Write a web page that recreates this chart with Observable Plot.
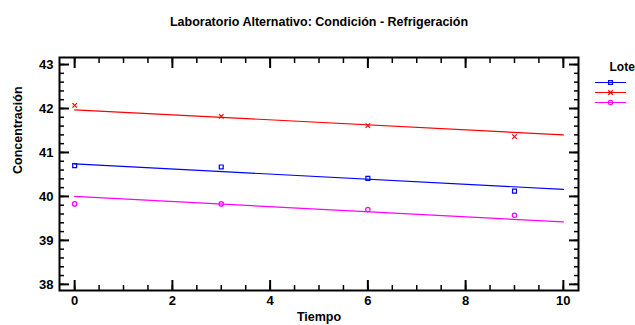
<!DOCTYPE html>
<html>
<head>
<meta charset="utf-8">
<script src="https://cdn.jsdelivr.net/npm/d3@7"></script>
<script src="https://cdn.jsdelivr.net/npm/@observablehq/plot@0.6"></script>
<style>
  html, body { margin: 0; padding: 0; background: #fff; overflow: hidden; }
  #wrap { position: relative; width: 635px; height: 325px; overflow: hidden; font-family: "Liberation Sans", Arial, sans-serif; }
  #legend { position: absolute; left: 590px; top: 50px; width: 45px; height: 70px; overflow: hidden; }
  #legend svg { max-width: none !important; }
</style>
</head>
<body>
<div id="wrap"><div id="chart"></div><div id="legend"></div></div>
<script>
// ---- data ----
const lots = ["1", "2", "3"];
const lotColors = ["#0000ff", "#ff0000", "#ff00ff"];
const lotSymbols = ["square", "times", "circle"];
const tiempo = [0, 3, 6, 9];
const conc1 = [40.70, 40.67, 40.41, 40.12];
const conc2 = [42.07, 41.82, 41.61, 41.36];
const conc3 = [39.83, 39.83, 39.70, 39.57];
const fitT = [0, 10];
const fit1 = [40.74, 40.16];
const fit2 = [41.97, 41.40];
const fit3 = [40.00, 39.42];
const xMajor = [0, 2, 4, 6, 8, 10];
const xMinor = d3.range(0, 10.01, 0.5);
const yMajor = [38, 39, 40, 41, 42, 43];
const yMinor = d3.range(38, 43.01, 0.2);
const title = "Laboratorio Alternativo: Condición - Refrigeración";
const xTitle = "Tiempo";
const yTitle = "Concentración";
const legendTitle = "Lote";

const concs = [conc1, conc2, conc3];
const fits = [fit1, fit2, fit3];
const points = lots.flatMap((lot, i) => tiempo.map((t, j) => ({lot, t, c: concs[i][j]})));
const lines = lots.flatMap((lot, i) => fitT.map((t, j) => ({lot, t, c: fits[i][j]})));

const font = "Liberation Sans, Arial, sans-serif";
const colorScale = {domain: lots, range: lotColors};
const symbolScale = {domain: lots, range: lotSymbols};

const chart = Plot.plot({
  width: 635,
  height: 325,
  marginLeft: 59,
  marginRight: 57,
  marginTop: 57,
  marginBottom: 35,
  style: {fontFamily: font, fontSize: "12px", color: "#000", background: "#fff"},
  x: {domain: [-0.31, 10.31]},
  y: {domain: [37.86, 43.16]},
  color: colorScale,
  symbol: symbolScale,
  marks: [
    // minor ticks (inward)
    Plot.axisY(yMinor, {anchor: "left", tickSize: -5, tickFormat: () => "", label: null, strokeWidth: 1.5}),
    Plot.axisY(yMinor, {anchor: "right", tickSize: -5, tickFormat: () => "", label: null, strokeWidth: 1.5}),
    Plot.axisX(xMinor, {anchor: "bottom", tickSize: -5, tickFormat: () => "", label: null, strokeWidth: 1.5}),
    Plot.axisX(xMinor, {anchor: "top", tickSize: -5, tickFormat: () => "", label: null, strokeWidth: 1.5}),
    // major ticks (inward)
    Plot.axisY(yMajor, {anchor: "left", tickSize: -10, tickFormat: () => "", label: null, strokeWidth: 2}),
    Plot.axisY(yMajor, {anchor: "right", tickSize: -10, tickFormat: () => "", label: null, strokeWidth: 2}),
    Plot.axisX(xMajor, {anchor: "bottom", tickSize: -10, tickFormat: () => "", label: null, strokeWidth: 2}),
    Plot.axisX(xMajor, {anchor: "top", tickSize: -10, tickFormat: () => "", label: null, strokeWidth: 2}),
    // labels
    Plot.axisY(yMajor, {anchor: "left", tickSize: 0, tickPadding: 6, label: null, fontWeight: "bold", fontSize: 13}),
    Plot.axisX(xMajor, {anchor: "bottom", tickSize: 0, tickPadding: 5, label: null, fontWeight: "bold", fontSize: 13}),
    Plot.frame({stroke: "#000", strokeWidth: 2}),
    Plot.line(lines, {x: "t", y: "c", z: "lot", stroke: "lot", strokeWidth: 1.2, clip: true}),
    Plot.dot(points, {x: "t", y: "c", stroke: "lot", symbol: "lot", r: 2.2, strokeWidth: 1.2, fill: "none"}),
    Plot.text([title], {frameAnchor: "top", dy: -40, fontWeight: "bold", fontSize: 12.5}),
    Plot.text([xTitle], {frameAnchor: "bottom", dy: 30, fontWeight: "bold", fontSize: 12.5}),
    Plot.text([yTitle], {frameAnchor: "left", dx: -42, rotate: -90, fontWeight: "bold", fontSize: 12.5})
  ]
});
document.getElementById("chart").appendChild(chart);

// legend (its right part lies beyond the window edge, as in the reference)
const legendRows = lots.flatMap((lot) => [0, 1].map((k) => ({lot, k})));
const legend = Plot.plot({
  width: 100,
  height: 70,
  marginLeft: 5,
  marginRight: 65,
  marginTop: 27,
  marginBottom: 13,
  style: {fontFamily: font, fontSize: "12px", color: "#000", background: "transparent"},
  x: {domain: [0, 1], axis: null},
  y: {domain: lots, type: "point", axis: null},
  color: colorScale,
  symbol: symbolScale,
  marks: [
    Plot.line(legendRows, {x: "k", y: "lot", z: "lot", stroke: "lot", strokeWidth: 1.2}),
    Plot.dot(lots, {x: [0.5, 0.5, 0.5], y: (d) => d, stroke: (d) => d, symbol: (d) => d, r: 2.2, strokeWidth: 1.2, fill: "none"}),
    Plot.text([legendTitle], {frameAnchor: "top-left", dx: 14, dy: -15, fontWeight: "bold", fontSize: 12, textAnchor: "start"})
  ]
});
document.getElementById("legend").appendChild(legend);
</script>
</body>
</html>
